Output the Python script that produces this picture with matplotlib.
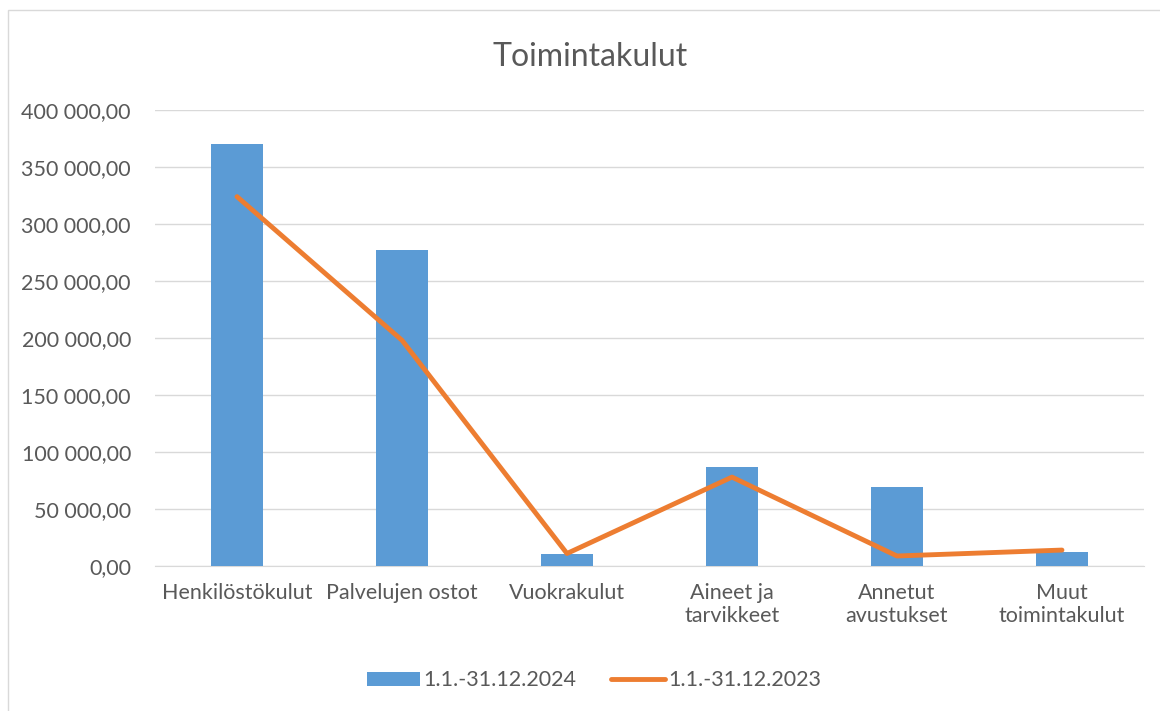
import matplotlib.pyplot as plt
from matplotlib.patches import Rectangle

categories = ['Henkilöstökulut', 'Palvelujen ostot', 'Vuokrakulut',
              'Aineet ja\ntarvikkeet', 'Annetut\navustukset', 'Muut\ntoimintakulut']
values_2024 = [370000, 277500, 10500, 87000, 69000, 12500]
values_2023 = [324000, 198000, 11000, 78000, 8800, 14000]
label_2024 = '1.1.-31.12.2024'
label_2023 = '1.1.-31.12.2023'
yticks = [0, 50000, 100000, 150000, 200000, 250000, 300000, 350000, 400000]
ytick_labels = ['0,00', '50 000,00', '100 000,00', '150 000,00', '200 000,00',
                '250 000,00', '300 000,00', '350 000,00', '400 000,00']

plt.rcParams['font.family'] = ['Lato', 'DejaVu Sans']
text_color = '#595959'
grid_color = '#d9d9d9'
fs = 15.5

fig = plt.figure(figsize=(11.6, 7.11), dpi=100)
ax = fig.add_axes([0.1332, 0.2039, 0.8534, 0.6414])

x = list(range(len(categories)))
bars = ax.bar(x, values_2024, width=0.31, color='#5B9BD5', label=label_2024, zorder=2)
line, = ax.plot(x, values_2023, color='#ED7D31', linewidth=3.5, solid_capstyle='round',
                solid_joinstyle='round', label=label_2023, zorder=3)

ax.set_xlim(-0.5, len(categories) - 0.5)
ax.set_ylim(0, 400000)
ax.set_yticks(yticks)
ax.set_yticklabels(ytick_labels, fontsize=fs, color=text_color)
ax.set_xticks(x)
ax.set_xticklabels(categories, fontsize=fs, color=text_color, linespacing=1.2, va='top')
ax.tick_params(axis='y', length=0, pad=17)
ax.tick_params(axis='x', length=0, pad=12)
ax.grid(axis='y', color=grid_color, linewidth=1, zorder=0)
for side in ['top', 'right', 'left']:
    ax.spines[side].set_visible(False)
ax.spines['bottom'].set_color(grid_color)
ax.spines['bottom'].set_zorder(1)

fig.text(0.509, 0.92, 'Toimintakulut', ha='center', va='center', fontsize=23, color=text_color)

fig.legend(handles=[bars, line], loc='center', bbox_to_anchor=(0.512, 0.043), ncol=2,
           frameon=False, fontsize=fs, labelcolor=text_color, handlelength=2.5,
           handletextpad=0.15, columnspacing=1.6, handleheight=0.6)

fig.patches.append(Rectangle((0.007, -0.01), 1.2, 0.996, transform=fig.transFigure,
                             fill=False, edgecolor=grid_color, linewidth=1))

fig.savefig('out.png', dpi=100)
